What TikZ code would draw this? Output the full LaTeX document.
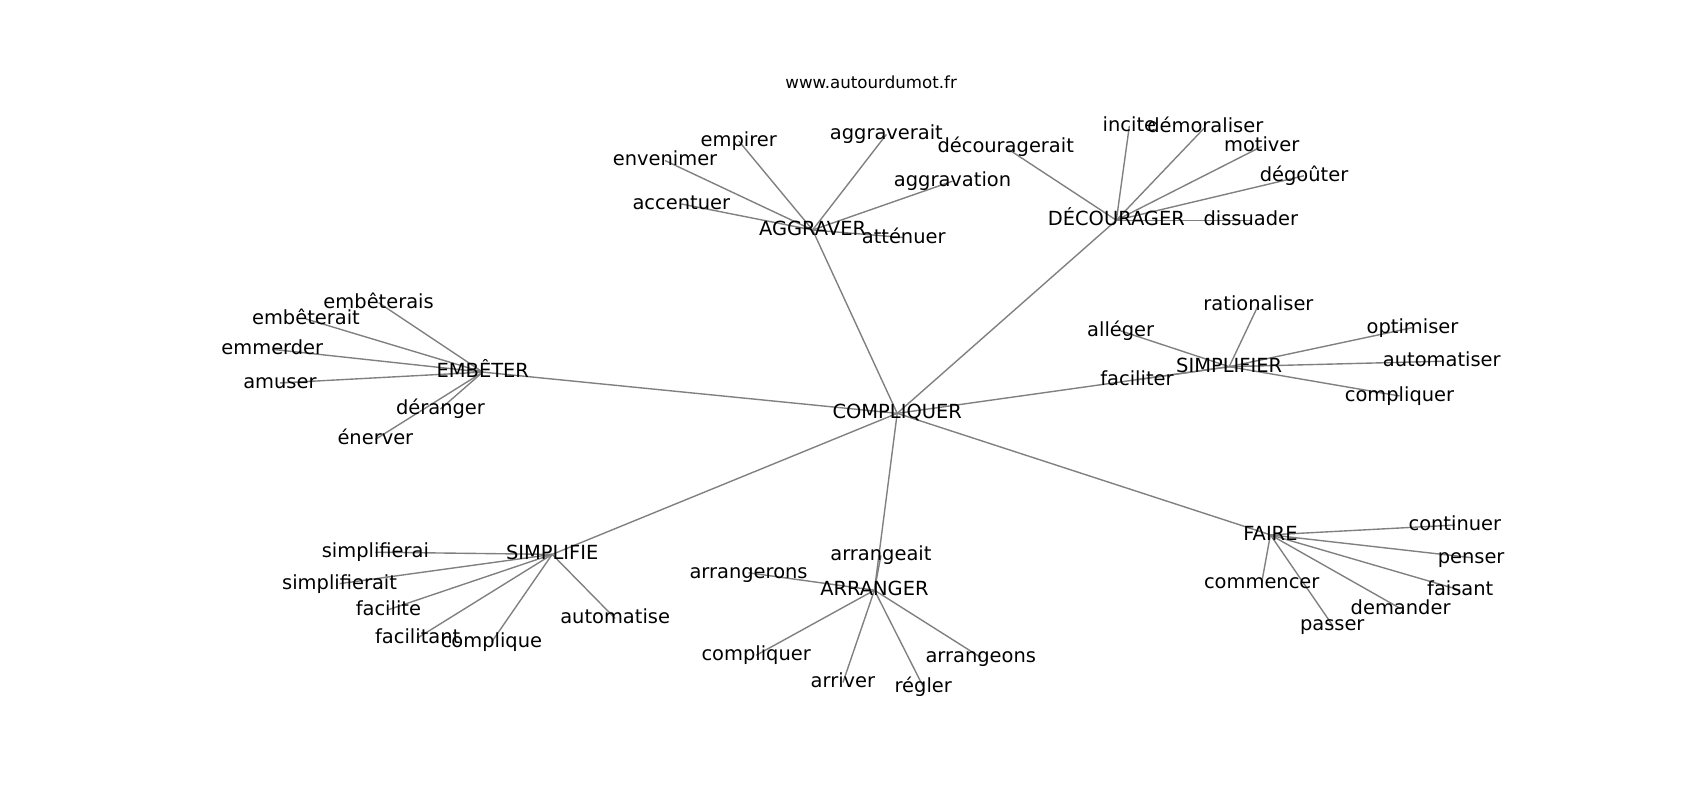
\documentclass[tikz,border=0pt]{standalone}
\usepackage{fontspec}
\setmainfont{DejaVu Sans}
\usetikzlibrary{backgrounds}
\tikzset{every picture/.style={line width=0.75pt}}

\begin{document}
\begin{tikzpicture}[x=0.781pt,y=0.781pt,yscale=-1,xscale=1,
	word/.style={inner sep=0pt, text height=0.89em, text depth=0.11em, font=\fontsize{14}{16}\selectfont},
	site/.style={inner sep=0pt, text height=0.89em, text depth=0.11em, font=\fontsize{12}{14}\selectfont},
	edge/.style={draw={rgb, 255:red, 128; green, 128; blue, 128 }, line width=1pt}]
	\useasboundingbox (0,0) rectangle (1567,737);

	% Text Node
	\node [site] (title) at (803,77) {www.autourdumot.fr};

	% Text Node
	\node [word] (compliquer) at (827,381) {COMPLIQUER};
	\node [word] (aggraver) at (749,212) {AGGRAVER};
	\node [word] (decourager) at (1029,203) {DÉCOURAGER};
	\node [word] (embeter) at (445,343) {EMBÊTER};
	\node [word] (simplifier) at (1133,338) {SIMPLIFIER};
	\node [word] (simplifie) at (509,511) {SIMPLIFIE};
	\node [word] (arranger) at (806,544) {ARRANGER};
	\node [word] (faire) at (1171,493) {FAIRE};

	% Text Node
	\node [word] (envenimer) at (613,148) {envenimer};
	\node [word] (empirer) at (681,130) {empirer};
	\node [word] (aggraverait) at (817,124) {aggraverait};
	\node [word] (aggravation) at (878,167) {aggravation};
	\node [word] (accentuer) at (628,188) {accentuer};
	\node [word] (attenuer) at (833,219) {atténuer};

	% Text Node
	\node [word] (decouragerait) at (927,136) {découragerait};
	\node [word] (incite) at (1041,116) {incite};
	\node [word] (demoraliser) at (1111,117) {démoraliser};
	\node [word] (motiver) at (1163,135) {motiver};
	\node [word] (degouter) at (1202,162) {dégoûter};
	\node [word] (dissuader) at (1153,203) {dissuader};

	% Text Node
	\node [word] (embeterais) at (349,279) {embêterais};
	\node [word] (embeterait) at (282,294) {embêterait};
	\node [word] (emmerder) at (251,322) {emmerder};
	\node [word] (amuser) at (258,353) {amuser};
	\node [word] (deranger) at (406,377) {déranger};
	\node [word] (enerver) at (346,405) {énerver};

	% Text Node
	\node [word] (rationaliser) at (1160,281) {rationaliser};
	\node [word] (alleger) at (1033,305) {alléger};
	\node [word] (faciliter) at (1048,350) {faciliter};
	\node [word] (optimiser) at (1302,302) {optimiser};
	\node [word] (automatiser) at (1329,333) {automatiser};
	\node [word] (compliquerS) at (1290,365) {compliquer};

	% Text Node
	\node [word] (simplifierai) at (346,509) {simplifierai};
	\node [word] (simplifierait) at (313,538) {simplifierait};
	\node [word] (facilite) at (358,562) {facilite};
	\node [word] (facilitant) at (385,588) {facilitant};
	\node [word] (complique) at (453,592) {complique};
	\node [word] (automatise) at (567,570) {automatise};

	% Text Node
	\node [word] (arrangeait) at (812,512) {arrangeait};
	\node [word] (arrangerons) at (690,528) {arrangerons};
	\node [word] (compliquerA) at (697,604) {compliquer};
	\node [word] (arriver) at (777,629) {arriver};
	\node [word] (regler) at (851,633) {régler};
	\node [word] (arrangeons) at (904,606) {arrangeons};

	% Text Node
	\node [word] (continuer) at (1341,484) {continuer};
	\node [word] (penser) at (1356,514) {penser};
	\node [word] (faisant) at (1346,544) {faisant};
	\node [word] (demander) at (1291,561) {demander};
	\node [word] (passer) at (1228,576) {passer};
	\node [word] (commencer) at (1163,537) {commencer};

	\begin{pgfonlayer}{background}
	%Straight Lines
	\draw [edge] (compliquer.center) -- (aggraver.center) ;
	\draw [edge] (compliquer.center) -- (decourager.center) ;
	\draw [edge] (compliquer.center) -- (embeter.center) ;
	\draw [edge] (compliquer.center) -- (simplifier.center) ;
	\draw [edge] (compliquer.center) -- (simplifie.center) ;
	\draw [edge] (compliquer.center) -- (arranger.center) ;
	\draw [edge] (compliquer.center) -- (faire.center) ;
	%Straight Lines
	\draw [edge] (aggraver.center) -- (envenimer.center) ;
	\draw [edge] (aggraver.center) -- (empirer.center) ;
	\draw [edge] (aggraver.center) -- (aggraverait.center) ;
	\draw [edge] (aggraver.center) -- (aggravation.center) ;
	\draw [edge] (aggraver.center) -- (accentuer.center) ;
	\draw [edge] (aggraver.center) -- (attenuer.center) ;
	%Straight Lines
	\draw [edge] (decourager.center) -- (decouragerait.center) ;
	\draw [edge] (decourager.center) -- (incite.center) ;
	\draw [edge] (decourager.center) -- (demoraliser.center) ;
	\draw [edge] (decourager.center) -- (motiver.center) ;
	\draw [edge] (decourager.center) -- (degouter.center) ;
	\draw [edge] (decourager.center) -- (dissuader.center) ;
	%Straight Lines
	\draw [edge] (embeter.center) -- (embeterais.center) ;
	\draw [edge] (embeter.center) -- (embeterait.center) ;
	\draw [edge] (embeter.center) -- (emmerder.center) ;
	\draw [edge] (embeter.center) -- (amuser.center) ;
	\draw [edge] (embeter.center) -- (deranger.center) ;
	\draw [edge] (embeter.center) -- (enerver.center) ;
	%Straight Lines
	\draw [edge] (simplifier.center) -- (rationaliser.center) ;
	\draw [edge] (simplifier.center) -- (alleger.center) ;
	\draw [edge] (simplifier.center) -- (faciliter.center) ;
	\draw [edge] (simplifier.center) -- (optimiser.center) ;
	\draw [edge] (simplifier.center) -- (automatiser.center) ;
	\draw [edge] (simplifier.center) -- (compliquerS.center) ;
	%Straight Lines
	\draw [edge] (simplifie.center) -- (simplifierai.center) ;
	\draw [edge] (simplifie.center) -- (simplifierait.center) ;
	\draw [edge] (simplifie.center) -- (facilite.center) ;
	\draw [edge] (simplifie.center) -- (facilitant.center) ;
	\draw [edge] (simplifie.center) -- (complique.center) ;
	\draw [edge] (simplifie.center) -- (automatise.center) ;
	%Straight Lines
	\draw [edge] (arranger.center) -- (arrangeait.center) ;
	\draw [edge] (arranger.center) -- (arrangerons.center) ;
	\draw [edge] (arranger.center) -- (compliquerA.center) ;
	\draw [edge] (arranger.center) -- (arriver.center) ;
	\draw [edge] (arranger.center) -- (regler.center) ;
	\draw [edge] (arranger.center) -- (arrangeons.center) ;
	%Straight Lines
	\draw [edge] (faire.center) -- (continuer.center) ;
	\draw [edge] (faire.center) -- (penser.center) ;
	\draw [edge] (faire.center) -- (faisant.center) ;
	\draw [edge] (faire.center) -- (demander.center) ;
	\draw [edge] (faire.center) -- (passer.center) ;
	\draw [edge] (faire.center) -- (commencer.center) ;
	\end{pgfonlayer}

\end{tikzpicture}
\end{document}
